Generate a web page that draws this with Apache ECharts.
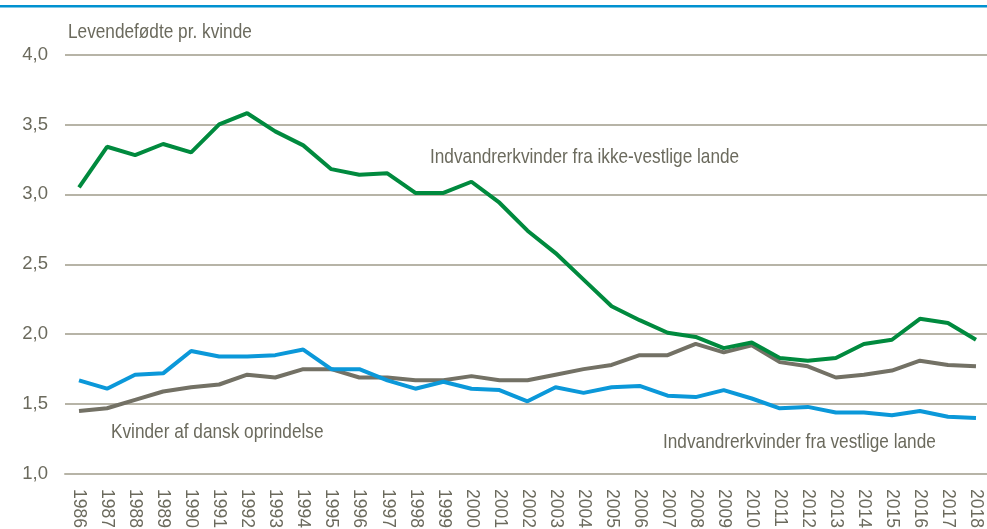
<!DOCTYPE html>
<html>
<head>
<meta charset="utf-8">
<script src="https://cdn.jsdelivr.net/npm/echarts@6/dist/echarts.min.js"></script>
<style>
  html, body { margin: 0; padding: 0; background: #fff; }
  #container { width: 987px; height: 529px; }
</style>
</head>
<body>
<div id="container"></div>
<script>
var years = [];
for (var y = 1986; y <= 2018; y++) years.push(String(y));

// Indvandrerkvinder fra ikke-vestlige lande
var ikkeVestlige = [3.05, 3.34, 3.28, 3.36, 3.30, 3.50, 3.58, 3.45, 3.35, 3.18, 3.14, 3.15,
    3.01, 3.01, 3.09, 2.94, 2.74, 2.58, 2.39, 2.20, 2.10, 2.01, 1.98, 1.90, 1.94, 1.83,
    1.81, 1.83, 1.93, 1.96, 2.11, 2.08, 1.96];
// Kvinder af dansk oprindelse
var dansk = [1.45, 1.47, 1.53, 1.59, 1.62, 1.64, 1.71, 1.69, 1.75, 1.75, 1.69, 1.69,
    1.67, 1.67, 1.70, 1.67, 1.67, 1.71, 1.75, 1.78, 1.85, 1.85, 1.93, 1.87, 1.92, 1.80,
    1.77, 1.69, 1.71, 1.74, 1.81, 1.78, 1.77];
// Indvandrerkvinder fra vestlige lande
var vestlige = [1.67, 1.61, 1.71, 1.72, 1.88, 1.84, 1.84, 1.85, 1.89, 1.75, 1.75, 1.67,
    1.61, 1.66, 1.61, 1.60, 1.52, 1.62, 1.58, 1.62, 1.63, 1.56, 1.55, 1.60, 1.54, 1.47,
    1.48, 1.44, 1.44, 1.42, 1.45, 1.41, 1.40];

var yTitle = 'Levendefødte pr. kvinde';
var seriesNames = ['Indvandrerkvinder fra ikke-vestlige lande', 'Kvinder af dansk oprindelse', 'Indvandrerkvinder fra vestlige lande'];

var font = '"Liberation Sans Narrow", "Arial Narrow", "Liberation Sans", sans-serif';
var textColor = '#6b6a5d';
var gridColor = '#b7b4a7';

var dom = document.getElementById('container');
var myChart = echarts.init(dom, null, { renderer: 'canvas' });

// narrow-looking text: normal font squeezed horizontally
function label(txt, x, y) {
    return {
        type: 'text', x: x, y: y, scaleX: 0.82,
        style: { text: txt, fill: textColor, font: '21px ' + font, textVerticalAlign: 'middle' }
    };
}

var option = {
    animation: false,
    textStyle: { fontFamily: font },
    grid: { left: 65, width: 925, top: 54.5, bottom: 55, outerBoundsMode: 'none', containLabel: false },
    xAxis: {
        type: 'category',
        data: years,
        boundaryGap: true,
        axisLine: { lineStyle: { color: gridColor, width: 2 } },
        axisTick: { show: false },
        axisLabel: {
            rotate: -90, interval: 0, margin: 15,
            color: textColor, fontSize: 17.5, fontFamily: font
        }
    },
    yAxis: {
        type: 'value',
        min: 1, max: 4, interval: 0.5,
        axisLine: { show: false },
        axisTick: { show: false },
        splitLine: { lineStyle: { color: gridColor, width: 2 } },
        axisLabel: {
            margin: 17, color: textColor, fontSize: 18.5, fontFamily: font,
            formatter: function (v) { return v.toFixed(1).replace('.', ','); }
        }
    },
    graphic: [
        { type: 'rect', left: 0, top: 5, shape: { width: 987, height: 2.5 }, style: { fill: '#0091d0' } },
        label(yTitle, 68, 32),
        label(seriesNames[0], 430, 157),
        label(seriesNames[1], 111, 432),
        label(seriesNames[2], 663, 442)
    ],
    series: [
        {
            name: seriesNames[1], type: 'line', data: dansk, symbol: 'none',
            lineStyle: { color: '#737165', width: 4 }
        },
        {
            name: seriesNames[2], type: 'line', data: vestlige, symbol: 'none',
            lineStyle: { color: '#0b98d9', width: 4 }
        },
        {
            name: seriesNames[0], type: 'line', data: ikkeVestlige, symbol: 'none',
            lineStyle: { color: '#008a3e', width: 4 }
        }
    ]
};

myChart.setOption(option);
window.addEventListener('resize', myChart.resize);
</script>
</body>
</html>
